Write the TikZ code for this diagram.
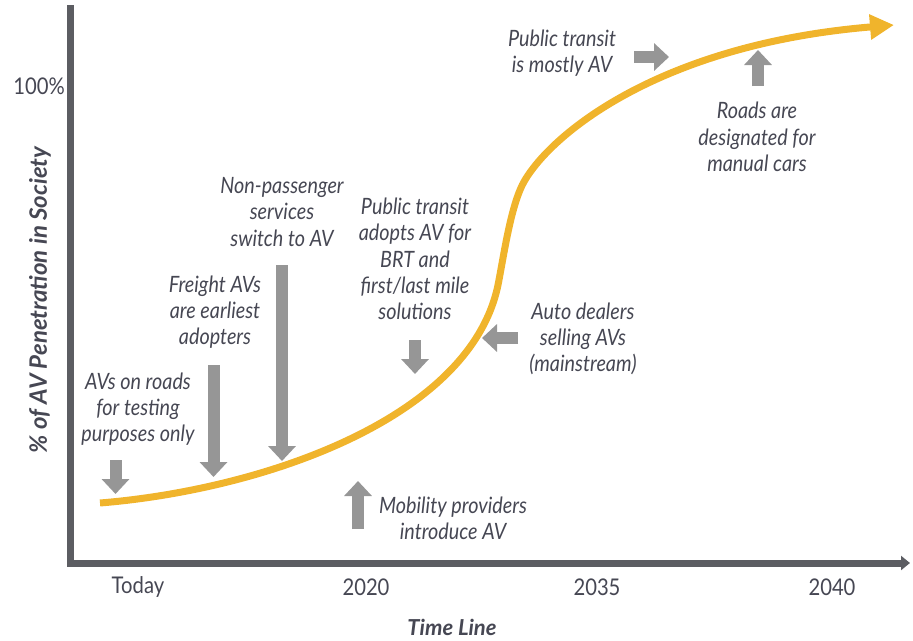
\documentclass[tikz,border=0pt]{standalone}
\usepackage{fontspec}
\setmainfont[FakeStretch=0.88]{Lato}
\newfontfamily\widefont{Lato}
\usetikzlibrary{arrows.meta}
\definecolor{txt}{HTML}{464753}
\definecolor{axisc}{HTML}{5C5D62}
\definecolor{gold}{HTML}{F0B42C}
\definecolor{blk}{HTML}{969696}
\begin{document}
\begin{tikzpicture}[x=1pt,y=-1pt,
  lbl/.style={font=\fontsize{22.5}{26.3}\selectfont\itshape, text=txt, align=center, inner sep=0pt},
  tick/.style={font=\fontsize{23}{26}\selectfont, text=txt, inner sep=0pt},
  axlbl/.style={font=\widefont\fontsize{22}{26}\selectfont\bfseries\itshape, text=txt, inner sep=0pt},
  blockarrow/.style={draw=blk, line width=12pt, line cap=butt, -{Triangle[length=15pt,width=27pt]}},
  axisline/.style={draw=axisc, line width=7pt, line join=miter, -{Triangle[length=9pt,width=14pt]}},
  curveline/.style={draw=gold, line width=7pt, -{Triangle[length=24pt,width=24pt]}}]
\useasboundingbox (0,0) rectangle (913,640);

% axes
\coordinate (ytop) at (70,5);
\coordinate (origin) at (70,563);
\coordinate (xend) at (910,563);
\draw[axisline] (ytop) -- (origin) -- (xend);

% axis labels
\node[tick, anchor=east] (pct) at (65,86) {100\%};
\node[axlbl, font=\widefont\fontsize{24}{28}\selectfont\bfseries\itshape, rotate=90] (ylab) at (40,300) {\% of AV Penetration in Society};
\node[tick] (today) at (138,587) {Today};
\node[tick] (y2020) at (366,587) {2020};
\node[tick] (y2035) at (597,587) {2035};
\node[tick] (y2040) at (832,587) {2040};
\node[axlbl] (tl) at (452,627) {Time Line};

% S-curve
\coordinate (c0) at (100,503);
\coordinate (c1) at (498,285);
\coordinate (c2) at (525,180);
\coordinate (c3) at (894,25);
\draw[curveline] (c0) .. controls (260,490) and (470,420) .. (c1)
  .. controls (504,255) and (511,203) .. (c2)
  .. controls (555,130) and (665,44) .. (c3);

% labels
\node[lbl] (t1) at (138,409) {AVs on roads\\for testing\\purposes only};
\node[lbl] (t2) at (215,312) {Freight AVs\\are earliest\\adopters};
\node[lbl] (t3) at (282,212) {Non-passenger\\services\\switch to AV};
\node[lbl] (t4) at (415,259) {Public transit\\adopts AV for\\BRT and\\first/last mile\\solutions};
\node[lbl] (t5) at (583,339) {Auto dealers\\selling AVs\\(mainstream)};
\node[lbl] (t6) at (453,518) {Mobility providers\\introduce AV};
\node[lbl] (t7) at (562,53) {Public transit\\is mostly AV};
\node[lbl] (t8) at (757,137) {Roads are\\designated for\\manual cars};

% arrow end points
\coordinate (a1s) at (115.5,460); \coordinate (a1e) at (115.5,494);
\coordinate (a2s) at (213.5,365); \coordinate (a2e) at (213.5,477);
\coordinate (a3s) at (282,265);   \coordinate (a3e) at (282,461);
\coordinate (a4s) at (415,340);   \coordinate (a4e) at (415,374);
\coordinate (a5s) at (518,338);   \coordinate (a5e) at (482,338);
\coordinate (a6s) at (358,529);   \coordinate (a6e) at (358,481);
\coordinate (a7s) at (634,57);    \coordinate (a7e) at (669,57);
\coordinate (a8s) at (758,86);    \coordinate (a8e) at (758,50);

\draw[blockarrow] (a1s) -- (a1e);
\draw[blockarrow] (a2s) -- (a2e);
\draw[blockarrow] (a3s) -- (a3e);
\draw[blockarrow] (a4s) -- (a4e);
\draw[blockarrow] (a5s) -- (a5e);
\draw[blockarrow] (a6s) -- (a6e);
\draw[blockarrow] (a7s) -- (a7e);
\draw[blockarrow] (a8s) -- (a8e);
\end{tikzpicture}
\end{document}
